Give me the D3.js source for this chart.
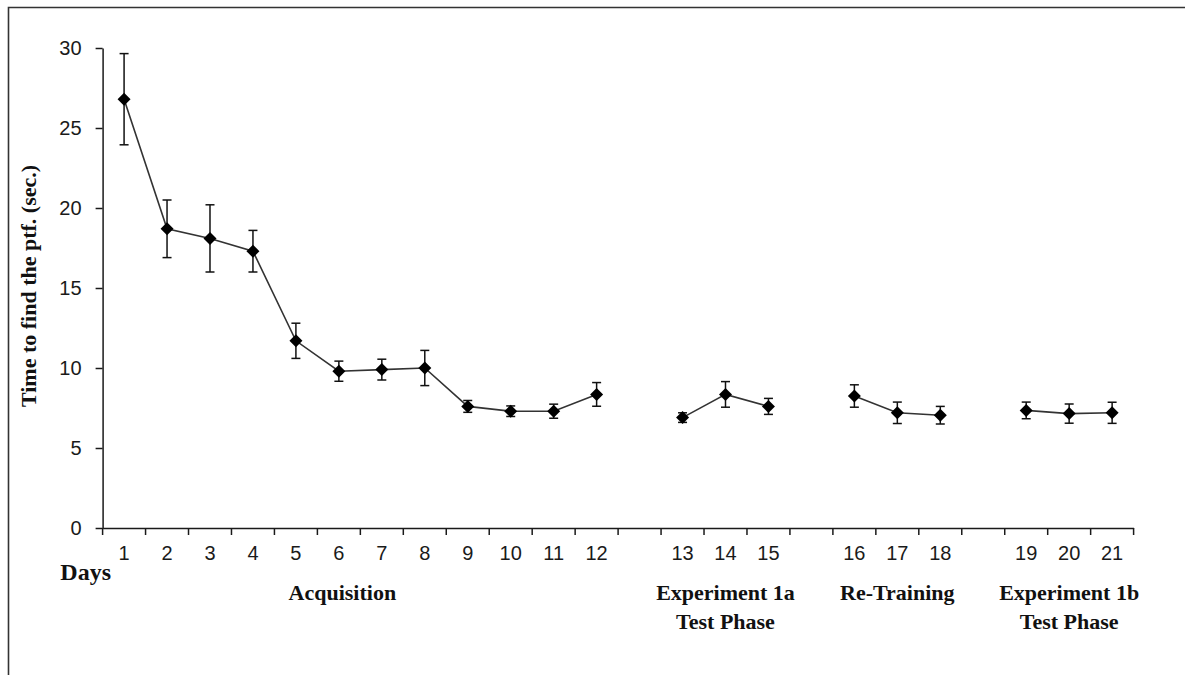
<!DOCTYPE html>
<html>
<head>
<meta charset="utf-8">
<script src="https://cdn.jsdelivr.net/npm/d3@7/dist/d3.min.js"></script>
<style>
  html, body { margin: 0; padding: 0; background: #fff; }
  svg { display: block; }
</style>
</head>
<body>
<svg id="chart" width="1185" height="675"></svg>
<script>
// ---- data ----
const days = ["1","2","3","4","5","6","7","8","9","10","11","12","13","14","15","16","17","18","19","20","21"];
const meanTime = [26.8, 18.7, 18.1, 17.3, 11.7, 9.8, 9.9, 10.0, 7.6, 7.3, 7.3, 8.35, 6.9, 8.35, 7.6, 8.25, 7.2, 7.05, 7.35, 7.15, 7.2];
const semTime  = [2.85, 1.8, 2.1, 1.3, 1.1, 0.63, 0.65, 1.1, 0.37, 0.33, 0.44, 0.74, 0.3, 0.8, 0.5, 0.7, 0.67, 0.55, 0.52, 0.6, 0.66];
const phaseNames = [["Acquisition"], ["Experiment 1a", "Test Phase"], ["Re-Training"], ["Experiment 1b", "Test Phase"]];
const phaseSizes = [12, 3, 3, 3];
const yTicks = [0, 5, 10, 15, 20, 25, 30];
const yTitle = "Time to find the ptf. (sec.)";
const xTitle = "Days";

(function () {
// ---- build slots (days + one empty slot between phases) ----
const slots = [];
const phaseOf = [];
let k = 0;
phaseSizes.forEach((n, p) => {
  for (let i = 0; i < n; i++) { slots.push(days[k]); phaseOf.push(p); k++; }
  if (p < phaseSizes.length - 1) { slots.push("gap" + p); }
});
const points = days.map((d, i) => ({ day: d, mean: meanTime[i], sem: semTime[i], phase: phaseOf[i] }));

const svg = d3.select("#chart");
const mLeft = 102.6, mRight = 1133.6, mTop = 48, mBottom = 528;

const x = d3.scaleBand().domain(slots).range([mLeft, mRight]).paddingInner(0).paddingOuter(0);
const y = d3.scaleLinear().domain([0, 30]).range([mBottom, mTop]);
const cx = d => x(d) + x.bandwidth() / 2;

const ink = "#1a1a1a";
const sans = "'Liberation Sans', Arial, sans-serif";
const serif = "'Liberation Serif', 'Times New Roman', serif";

// frame (top & left edges)
svg.append("path")
  .attr("d", "M8.5,675 L8.5,7.5 L1185,7.5")
  .attr("fill", "none").attr("stroke", "#333").attr("stroke-width", 1.6);

// y axis
const yAxis = svg.append("g")
  .attr("transform", `translate(${mLeft},0)`)
  .call(d3.axisLeft(y).tickValues(yTicks).tickSize(7).tickPadding(14).tickSizeOuter(0));
yAxis.select(".domain").attr("stroke", ink).attr("stroke-width", 1.5);
yAxis.selectAll(".tick line").attr("stroke", ink).attr("stroke-width", 1.5);
yAxis.selectAll(".tick text").attr("font-family", sans).attr("font-size", 20).attr("fill", ink);

// x axis (labels at centers)
const xAxis = svg.append("g")
  .attr("transform", `translate(0,${mBottom})`)
  .call(d3.axisBottom(x).tickSize(0).tickPadding(18).tickSizeOuter(0)
    .tickFormat(d => d.startsWith("gap") ? "" : d));
xAxis.select(".domain").attr("stroke", ink).attr("stroke-width", 1.5);
xAxis.selectAll(".tick text").attr("font-family", sans).attr("font-size", 20).attr("fill", ink);

// x boundary ticks
const bounds = slots.map(s => x(s)).concat([x(slots[slots.length - 1]) + x.bandwidth()]);
svg.append("g").selectAll("line").data(bounds).join("line")
  .attr("x1", d => d).attr("x2", d => d)
  .attr("y1", mBottom).attr("y2", mBottom + 7)
  .attr("stroke", ink).attr("stroke-width", 1.5);

// y title
svg.append("text")
  .attr("transform", `translate(36,${(mTop + mBottom) / 2 - 2}) rotate(-90)`)
  .attr("text-anchor", "middle")
  .attr("font-family", serif).attr("font-weight", "bold").attr("font-size", 22)
  .attr("fill", "#111")
  .text(yTitle);

// x title "Days"
svg.append("text")
  .attr("x", 111).attr("y", 580)
  .attr("text-anchor", "end")
  .attr("font-family", serif).attr("font-weight", "bold").attr("font-size", 24)
  .attr("fill", "#111")
  .text(xTitle);

// phase labels
let start = 0;
const phaseCenters = [];
phaseSizes.forEach((n, p) => {
  const dStart = slots.indexOf(days[start]);
  const dEnd = slots.indexOf(days[start + n - 1]);
  phaseCenters.push((x(slots[dStart]) + x(slots[dEnd]) + x.bandwidth()) / 2);
  start += n;
});
phaseNames.forEach((lines, p) => {
  const cxp = p === 0 ? phaseCenters[p] - 18 : phaseCenters[p];
  const t = svg.append("text")
    .attr("text-anchor", "middle")
    .attr("font-family", serif).attr("font-weight", "bold").attr("font-size", 22)
    .attr("fill", "#111");
  lines.forEach((ln, i) => {
    t.append("tspan").attr("x", cxp).attr("y", 600 + i * 29).text(ln);
  });
});

// lines per phase
const line = d3.line().x(d => cx(d.day)).y(d => y(d.mean));
d3.range(phaseSizes.length).forEach(p => {
  svg.append("path")
    .datum(points.filter(d => d.phase === p))
    .attr("d", line)
    .attr("fill", "none").attr("stroke", "#333").attr("stroke-width", 1.6);
});

// error bars
const eb = svg.append("g").attr("stroke", "#111").attr("stroke-width", 1.5);
eb.selectAll(".v").data(points).join("line")
  .attr("x1", d => cx(d.day)).attr("x2", d => cx(d.day))
  .attr("y1", d => y(d.mean + d.sem)).attr("y2", d => y(d.mean - d.sem));
eb.selectAll(".ct").data(points).join("line")
  .attr("x1", d => cx(d.day) - 4.5).attr("x2", d => cx(d.day) + 4.5)
  .attr("y1", d => y(d.mean + d.sem)).attr("y2", d => y(d.mean + d.sem));
eb.selectAll(".cb").data(points).join("line")
  .attr("x1", d => cx(d.day) - 4.5).attr("x2", d => cx(d.day) + 4.5)
  .attr("y1", d => y(d.mean - d.sem)).attr("y2", d => y(d.mean - d.sem));

// diamond markers
svg.append("g").selectAll("path").data(points).join("path")
  .attr("transform", d => `translate(${cx(d.day)},${y(d.mean)})`)
  .attr("d", "M0,-6.5 L6.5,0 L0,6.5 L-6.5,0 Z")
  .attr("fill", "#000");
})();
</script>
</body>
</html>
